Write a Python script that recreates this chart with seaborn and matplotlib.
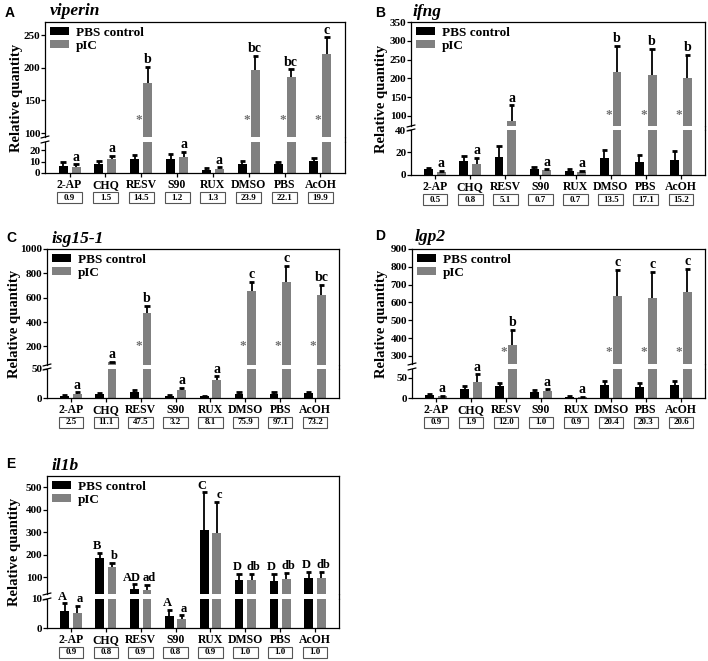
import matplotlib
matplotlib.use('Agg')
import matplotlib.pyplot as plt
import seaborn as sns
import pandas as pd
from matplotlib.transforms import blended_transform_factory
from matplotlib.patches import Rectangle
from matplotlib.lines import Line2D

sns.set_theme(style='ticks', rc={'axes.edgecolor': 'black', 'xtick.color': 'black',
                                 'ytick.color': 'black', 'text.color': 'black',
                                 'axes.labelcolor': 'black'})
plt.rcParams['font.family'] = ['Liberation Serif', 'DejaVu Serif']
plt.rcParams['font.weight'] = 'bold'

W, H = 708, 661
fig = plt.figure(figsize=(W / 100, H / 100), dpi=100)

categories = ['2-AP', 'CHQ', 'RESV', 'S90', 'RUX', 'DMSO', 'PBS', 'AcOH']
groups = ['PBS control', 'pIC']
colors = ['#000000', '#808080']

# ---- A: viperin ----
viperin_ctrl = [6.5, 8.2, 12.4, 12.4, 3.0, 8.2, 8.2, 10.9]
viperin_ctrl_sd = [2.9, 2.8, 3.6, 4.6, 1.4, 2.4, 1.2, 2.3]
viperin_pic = [5.3, 12.4, 176, 14.0, 3.8, 196.6, 186.4, 220.5]
viperin_pic_sd = [2.3, 2.9, 25.7, 5.0, 1.2, 21.4, 11.2, 25.9]
viperin_fold = ['0.9', '1.5', '14.5', '1.2', '1.3', '23.9', '22.1', '19.9']
viperin_letters = ['a', 'a', 'b', 'a', 'a', 'bc', 'bc', 'c']
viperin_stars = [False, False, True, False, False, True, True, True]

# ---- B: ifng ----
ifng_ctrl = [5.0, 12.0, 16.0, 5.5, 3.5, 15.5, 11.5, 13.0]
ifng_ctrl_sd = [1.5, 5.0, 10.0, 1.5, 2.0, 7.0, 6.0, 8.0]
ifng_pic = [2.5, 10.0, 85, 4.0, 2.5, 218, 208, 202]
ifng_pic_sd = [1.0, 5.0, 43, 1.0, 1.0, 69, 71, 61]
ifng_fold = ['0.5', '0.8', '5.1', '0.7', '0.7', '13.5', '17.1', '15.2']
ifng_letters = ['a', 'a', 'a', 'a', 'a', 'b', 'b', 'b']
ifng_stars = [False, False, False, False, False, True, True, True]

# ---- C: isg15-1 ----
isg_ctrl = [3.4, 6.2, 10.2, 3.4, 2.8, 7.4, 7.4, 9.0]
isg_ctrl_sd = [1.1, 1.6, 4.0, 1.6, 1.2, 2.8, 2.3, 0.8]
isg_pic = [7.4, 68, 471, 13, 31, 655, 726, 619]
isg_pic_sd = [2.6, 6, 63, 4, 6.5, 76, 137, 85]
isg_fold = ['2.5', '11.1', '47.5', '3.2', '8.1', '75.9', '97.1', '73.2']
isg_letters = ['a', 'a', 'b', 'a', 'a', 'c', 'c', 'bc']
isg_stars = [False, False, True, False, False, True, True, True]

# ---- D: lgp2 ----
lgp_ctrl = [6.7, 22.5, 29, 16, 3.3, 31.7, 26.7, 31.7]
lgp_ctrl_sd = [2.3, 7.5, 9, 3, 0.7, 10, 10, 10.8]
lgp_pic = [4, 39, 360, 17, 1.7, 636, 627, 659]
lgp_pic_sd = [2, 20, 86, 4.7, 1.6, 146, 144, 131]
lgp_fold = ['0.9', '1.9', '12.0', '1.0', '0.9', '20.4', '20.3', '20.6']
lgp_letters = ['a', 'a', 'b', 'a', 'a', 'c', 'c', 'c']
lgp_stars = [False, False, True, False, False, True, True, True]

# ---- E: il1b ----
il1b_ctrl = [5.7, 185, 48, 4.0, 310, 88, 85, 96]
il1b_ctrl_sd = [2.8, 25, 21, 2.3, 168, 27, 30, 29]
il1b_pic = [5.1, 147, 44, 3.1, 298, 88, 91, 96]
il1b_pic_sd = [2.6, 18, 22, 1.3, 138, 27, 30, 29]
il1b_fold = ['0.9', '0.8', '0.9', '0.8', '0.9', '1.0', '1.0', '1.0']
il1b_ctrl_letters = ['A', 'B', 'AD', 'A', 'C', 'D', 'D', 'D']
il1b_pic_letters = ['a', 'b', 'ad', 'a', 'c', 'db', 'db', 'db']


def fx(px):
    return px / W


def fy(py):
    return 1 - py / H


def panel(letter, title, left, right, up_top, up_bot, lo_top, lo_bot,
          ctrl, ctrl_sd, pic, pic_sd, up_lim, lo_lim, up_ticks, lo_ticks,
          folds, pic_letters, ctrl_letters, stars, star_y,
          lab_x, letter_x, letter_y, title_x, title_y, letter_size=10):
    ax_up = fig.add_axes([fx(left), fy(up_bot), (right - left) / W, (up_bot - up_top) / H])
    ax_lo = fig.add_axes([fx(left), fy(lo_bot), (right - left) / W, (lo_bot - lo_top) / H])
    df = pd.DataFrame({'category': categories * 2,
                       'group': [groups[0]] * len(categories) + [groups[1]] * len(categories),
                       'value': list(ctrl) + list(pic)})
    sds = [list(ctrl_sd), list(pic_sd)]
    means = [list(ctrl), list(pic)]
    for ax in (ax_up, ax_lo):
        ax.set_facecolor('none')
        sns.barplot(data=df, x='category', y='value', hue='group', order=categories,
                    hue_order=groups, palette=colors, width=0.72, gap=0.3,
                    errorbar=None, linewidth=0, ax=ax, legend=(ax is ax_up))
        for k, cont in enumerate(ax.containers):
            xs = [p.get_x() + p.get_width() / 2 for p in cont.patches]
            tops = [m + s for m, s in zip(means[k], sds[k])]
            ax.vlines(xs, means[k], tops, color='black', lw=1.3, zorder=3)
            ax.hlines(tops, [x - 0.075 for x in xs], [x + 0.075 for x in xs],
                      color='black', lw=2.0, zorder=3)
        ax.set_xlabel('')
        ax.set_ylabel('')
        for s in ax.spines.values():
            s.set_linewidth(0.9)
        ax.tick_params(axis='y', length=2.6, width=0.9, pad=0.8, labelsize=8)
    ax_up.set_ylim(*up_lim)
    ax_lo.set_ylim(*lo_lim)
    ax_up.set_yticks(up_ticks)
    ax_lo.set_yticks(lo_ticks)
    ax_up.spines['bottom'].set_visible(False)
    ax_lo.spines['top'].set_visible(False)
    ax_up.tick_params(axis='x', bottom=False, labelbottom=False)
    ax_lo.tick_params(axis='x', length=2.6, width=0.9, pad=1.5, labelsize=8.5)

    # legend
    h, l = ax_up.get_legend_handles_labels()
    ax_up.legend(h, l, loc='upper left', bbox_to_anchor=(0.0, 1.0), frameon=False,
                 fontsize=9.5, handlelength=1.5, handleheight=0.6, handletextpad=0.5,
                 labelspacing=0.08, borderaxespad=0.15, borderpad=0.2)

    # letters and stars
    bx = [[p.get_x() + p.get_width() / 2 for p in c.patches] for c in ax_lo.containers]
    centers = [(a + b) / 2 for a, b in zip(bx[0], bx[1])]
    both = ctrl_letters is not None
    lab_sets = [(ctrl_letters, 0, -1.6 if both else 0), (pic_letters, 1, 1.6 if both else 0)]
    for labs, k, dx in lab_sets:
        if labs is None:
            continue
        for i, t in enumerate(labs):
            top = means[k][i] + sds[k][i]
            ax = ax_lo if top <= lo_lim[1] else ax_up
            ax.annotate(t, (bx[k][i], top), xytext=(dx, 0.5), textcoords='offset points',
                        ha='center', va='bottom', fontsize=letter_size,
                        annotation_clip=False, zorder=5)
    for i, st in enumerate(stars):
        if st:
            ax_up.text(centers[i] - 0.06, star_y, '*', color='#707070', ha='center',
                       va='center', fontsize=9.5)

    # fold-change boxes
    tr = blended_transform_factory(ax_lo.transData, fig.transFigure)
    for cx, f in zip(centers, folds):
        fig.add_artist(Rectangle((cx - 0.35, fy(lo_bot + 30)), 0.7, 11 / H, transform=tr,
                                 facecolor='white', edgecolor='#555555', lw=0.8))
        fig.text(cx, fy(lo_bot + 24.5), f, transform=tr, ha='center', va='center',
                 fontsize=6.5)

    # break marks and right spine bridge
    for yy in (up_bot, lo_top):
        fig.add_artist(Line2D([fx(left - 4), fx(left + 4)], [fy(yy + 1), fy(yy - 1)],
                              color='black', lw=0.9))
    fig.add_artist(Line2D([fx(right), fx(right)], [fy(up_bot), fy(lo_top)],
                          color='black', lw=0.9))

    fig.text(fx(lab_x), fy((up_top + lo_bot) / 2), 'Relative quantity', rotation=90,
             ha='center', va='center', fontsize=10.5)
    fig.text(fx(letter_x), fy(letter_y), letter, family='Liberation Sans', weight='bold',
             fontsize=10, ha='center', va='center')
    fig.text(fx(title_x), fy(title_y), title, style='italic', weight='bold', fontsize=12.5,
             ha='left', va='baseline')


panel('A', 'viperin', 45, 345, 22, 137, 142, 173,
      viperin_ctrl, viperin_ctrl_sd, viperin_pic, viperin_pic_sd,
      (94, 270), (0, 27.5), [100, 150, 200, 250], [0, 10, 20],
      viperin_fold, viperin_letters, None, viperin_stars, 120,
      17, 10, 13, 50, 15)

panel('B', 'ifng', 411, 705, 22, 126, 130, 175,
      ifng_ctrl, ifng_ctrl_sd, ifng_pic, ifng_pic_sd,
      (73, 350), (0, 40), [100, 150, 200, 250, 300, 350], [0, 20, 40],
      ifng_fold, ifng_letters, None, ifng_stars, 102,
      382, 380, 13, 413, 16)

panel('C', 'isg15-1', 47, 339, 249, 365, 369, 398,
      isg_ctrl, isg_ctrl_sd, isg_pic, isg_pic_sd,
      (47, 1000), (0, 50), [200, 400, 600, 800, 1000], [0, 50],
      isg_fold, isg_letters, None, isg_stars, 200,
      15, 11, 238, 52, 243)

panel('D', 'lgp2', 412, 705, 249, 364, 369, 398,
      lgp_ctrl, lgp_ctrl_sd, lgp_pic, lgp_pic_sd,
      (255, 900), (0, 72), [300, 400, 500, 600, 700, 800, 900], [0, 50],
      lgp_fold, lgp_letters, None, lgp_stars, 325,
      382, 380, 236, 415, 241)

panel('E', 'il1b', 47, 339, 476, 594, 599, 628,
      il1b_ctrl, il1b_ctrl_sd, il1b_pic, il1b_pic_sd,
      (26, 550), (0, 10), [100, 200, 300, 400, 500], [0, 10],
      il1b_fold, il1b_pic_letters, il1b_ctrl_letters, [False] * 8, 0,
      15, 11, 464, 52, 470, letter_size=9)

fig.savefig('out.png', dpi=100)
